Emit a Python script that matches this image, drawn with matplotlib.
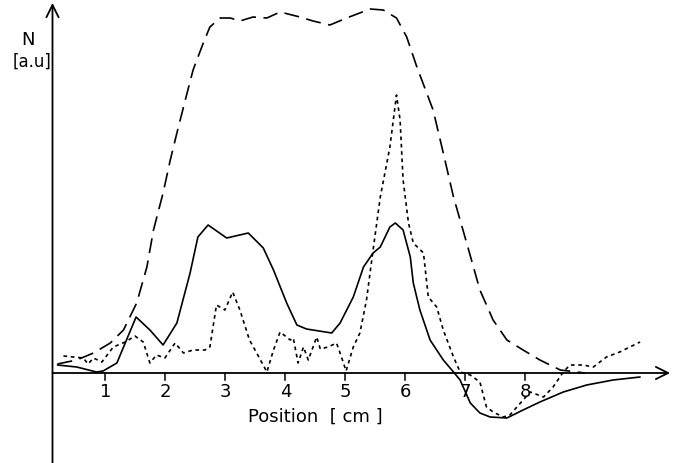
import numpy as np
from matplotlib import pyplot as plt

# curves (position in cm, N in arbitrary units)
solid_x = [0.20, 0.52, 0.85, 0.96, 1.19, 1.35, 1.51, 1.74, 1.96, 2.19, 2.41, 2.54, 2.71, 3.02,
           3.38, 3.63, 3.80, 4.02, 4.19, 4.35, 4.77, 4.91, 5.13, 5.30, 5.46, 5.58, 5.74, 5.83,
           5.96, 6.08, 6.13, 6.24, 6.41, 6.63, 6.80, 6.91, 7.08, 7.24, 7.41, 7.69, 7.96, 8.24,
           8.63, 9.02, 9.46, 9.91]
solid_y = [0.08, 0.06, 0.01, 0.02, 0.10, 0.33, 0.56, 0.43, 0.28, 0.50, 1.00, 1.36, 1.48, 1.35,
           1.40, 1.25, 1.03, 0.70, 0.48, 0.44, 0.40, 0.50, 0.76, 1.06, 1.20, 1.26, 1.46, 1.50,
           1.43, 1.16, 0.90, 0.63, 0.33, 0.13, 0.01, -0.07, -0.30, -0.40, -0.44, -0.45, -0.37, -0.29,
           -0.19, -0.12, -0.07, -0.04]

dashed_x = [0.20, 0.52, 0.80, 1.08, 1.30, 1.52, 1.69, 1.80, 1.96, 2.08, 2.19, 2.33, 2.46, 2.63,
            2.74, 2.91, 3.08, 3.24, 3.46, 3.69, 3.91, 4.24, 4.46, 4.74, 5.02, 5.41, 5.63, 5.85,
            6.02, 6.19, 6.46, 6.63, 6.80, 7.02, 7.24, 7.46, 7.69, 7.96, 8.24, 8.58, 8.99]
dashed_y = [0.09, 0.13, 0.20, 0.30, 0.43, 0.70, 1.06, 1.43, 1.80, 2.13, 2.40, 2.73, 3.03, 3.30,
            3.46, 3.55, 3.55, 3.52, 3.56, 3.55, 3.61, 3.56, 3.52, 3.48, 3.55, 3.64, 3.63, 3.55,
            3.36, 3.06, 2.63, 2.20, 1.76, 1.30, 0.83, 0.53, 0.33, 0.23, 0.13, 0.03, 0.00]

dotted_x = [0.30, 0.63, 0.71, 0.80, 0.94, 1.13, 1.33, 1.49, 1.63, 1.74, 1.85, 1.99, 2.16, 2.30,
            2.46, 2.66, 2.74, 2.85, 2.99, 3.12, 3.24, 3.40, 3.52, 3.69, 3.80, 3.91, 4.08, 4.13,
            4.21, 4.30, 4.38, 4.52, 4.58, 4.71, 4.85, 4.91, 5.01, 5.13, 5.24, 5.35, 5.46, 5.58,
            5.74, 5.85, 5.91, 5.96, 6.05, 6.13, 6.30, 6.38, 6.52, 6.63, 6.80, 6.91, 7.08, 7.24,
            7.35, 7.46, 7.63, 7.74, 7.96, 8.08, 8.30, 8.46, 8.63, 8.74, 8.96, 9.13, 9.35, 9.57, 9.91]
dotted_y = [0.17, 0.15, 0.09, 0.15, 0.11, 0.26, 0.31, 0.37, 0.31, 0.10, 0.18, 0.15, 0.30, 0.20,
            0.23, 0.23, 0.26, 0.68, 0.63, 0.81, 0.63, 0.33, 0.20, 0.01, 0.23, 0.41, 0.33, 0.35,
            0.10, 0.26, 0.13, 0.36, 0.24, 0.26, 0.30, 0.20, 0.02, 0.26, 0.40, 0.73, 1.23, 1.76,
            2.26, 2.78, 2.53, 1.93, 1.50, 1.30, 1.20, 0.76, 0.66, 0.43, 0.16, 0.01, -0.02, -0.09,
            -0.34, -0.39, -0.44, -0.42, -0.27, -0.19, -0.24, -0.14, 0.01, 0.08, 0.08, 0.06, 0.16, 0.21, 0.31]

ticks = [1, 2, 3, 4, 5, 6, 7, 8]

fig = plt.figure(figsize=(6.74, 4.63), dpi=100)
ax = fig.add_axes([0, 0, 1, 1])
ax.set_xlim(-0.758, 10.475)
ax.set_ylim(-0.90, 3.73)
ax.axis('off')

lw = 1.2
ax.plot(solid_x, solid_y, color='black', lw=lw, solid_capstyle='round')
ax.plot(dashed_x, dashed_y, color='black', lw=lw, linestyle=(0, (9, 4.5)))
ax.plot(dotted_x, dotted_y, color='black', lw=lw, linestyle=(0, (2.2, 2.2)))

# axes with arrow heads
x0 = 0.117
arrow = dict(arrowstyle='->', lw=1.3, color='black', mutation_scale=22, shrinkA=0, shrinkB=0)
ax.annotate('', xy=(x0, 3.70), xytext=(x0, -0.95), arrowprops=arrow)
ax.annotate('', xy=(10.41, 0), xytext=(x0, 0), arrowprops=arrow)

for t in ticks:
    ax.plot([t, t], [0, -0.065], color='black', lw=1.1)
    ax.text(t, -0.19, str(t), ha='center', va='center', fontsize=13)

ax.text(4.49, -0.44, 'Position  [ cm ]', ha='center', va='center', fontsize=13)
ax.text(-0.29, 3.33, 'N', ha='center', va='center', fontsize=13)
ax.text(-0.225, 3.11, '[a.u]', ha='center', va='center', fontsize=12)

fig.savefig('out.png', dpi=100)
